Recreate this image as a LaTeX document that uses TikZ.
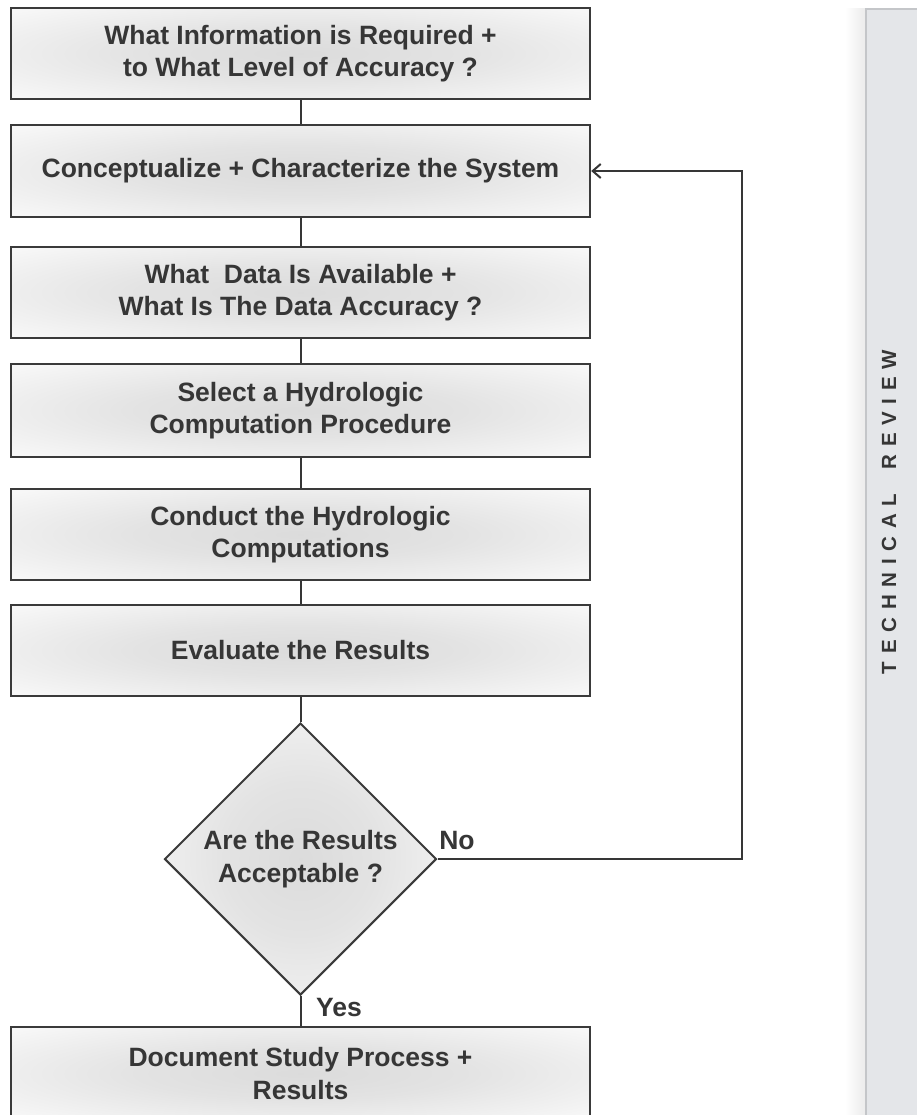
\documentclass[tikz,border=0pt]{standalone}
\usepackage{fontspec}
\setmainfont{Liberation Sans}
\usetikzlibrary{shapes.geometric,arrows.meta,backgrounds}
\definecolor{ink}{HTML}{363636}
\definecolor{edge}{HTML}{3A3A3A}
\definecolor{panelfill}{HTML}{E4E6E9}
\definecolor{panelline}{HTML}{C4C6C9}
\pgfdeclareradialshading{boxglow}{\pgfpoint{0bp}{0bp}}{color(0bp)=(black!14); color(14bp)=(black!11); color(34bp)=(black!3); color(50bp)=(black!2)}
\begin{document}
\begin{tikzpicture}[x=1pt,y=-1pt,
  txt/.style={font=\fontsize{26.5}{32.5}\selectfont\bfseries, text=ink},
  stepbox/.style={rectangle, draw=edge, line width=2.4pt, minimum width=579pt,
    align=center, txt, inner sep=0pt, shading=boxglow},
  decision/.style={diamond, draw=edge, line width=2pt, minimum width=272pt,
    minimum height=272pt, aspect=1, align=center, txt, inner sep=0pt, shading=boxglow},
  link/.style={draw=ink, line width=2pt},
  lbl/.style={txt},
  glow/.style={fill=black, opacity=0.018}]
\useasboundingbox (0,0) rectangle (916,1115);
\fill[white] (0,0) rectangle (916,1115);

% panel on the right
\shade[left color=white, right color=black!8] (845,9) rectangle (866,1115);
\draw[panelline, line width=1.5pt, fill=panelfill] (866,1120) -- (866,9) -- (920,9) -- (920,1120);
\node[rotate=90, text=ink, font=\fontsize{20.5}{20.5}\selectfont\bfseries\addfontfeatures{LetterSpace=38}]
  (tr) at (889,512) {TECHNICAL\hspace{24pt}REVIEW};

% steps
\node[stepbox, minimum height=91pt] (b1) at (300.5,53.5) {What Information is Required +\\to What Level of Accuracy ?};
\node[stepbox, minimum height=92pt] (b2) at (300.5,171) {Conceptualize + Characterize the System};
\node[stepbox, minimum height=91pt] (b3) at (300.5,292.5) {What\ \ Data Is Available +\\What Is The Data Accuracy ?};
\node[stepbox, minimum height=93pt] (b4) at (300.5,410.5) {Select a Hydrologic\\Computation Procedure};
\node[stepbox, minimum height=91pt] (b5) at (300.5,534.5) {Conduct the Hydrologic\\Computations};
\node[stepbox, minimum height=91pt] (b6) at (300.5,650.5) {Evaluate the Results};
\node[decision] (d) at (300.5,859) {Are the Results\\Acceptable ?};
\node[stepbox, minimum height=93pt] (b7) at (300.5,1073.5) {Document Study Process +\\Results};

% glows behind boxes
\begin{scope}[on background layer]
  \foreach \b in {b1,b2,b3,b4,b5,b6,b7}{
    \foreach \i in {1,...,7}{
      \fill[glow] ([shift={(-\i*3,-\i*3)}]\b.north west) rectangle ([shift={(\i*3,\i*3)}]\b.south east);
    }
  }
  \foreach \i in {1,...,7}{
    \node[diamond, aspect=1, inner sep=0pt, minimum width=272pt+\i*8pt, minimum height=272pt+\i*8pt, glow] at (d) {};
  }
\end{scope}

% connectors
\draw[link] (b1.south) -- (b2.north);
\draw[link] (b2.south) -- (b3.north);
\draw[link] (b3.south) -- (b4.north);
\draw[link] (b4.south) -- (b5.north);
\draw[link] (b5.south) -- (b6.north);
\draw[link] (b6.south) -- (d.north);
\draw[link] (d.south) -- (b7.north);
\coordinate (c1) at (742,859);
\coordinate (c2) at (742,171);
\draw[link, -{Straight Barb[length=8pt, width=14pt, line width=2pt]}] (d.east) -- (c1) -- (c2) -- (b2.east);

% labels
\node[lbl] (no) at (457,841) {No};
\node[lbl] (yes) at (339,1008) {Yes};
\end{tikzpicture}
\end{document}
